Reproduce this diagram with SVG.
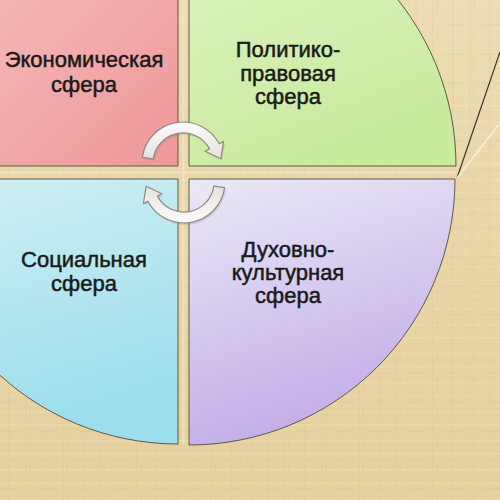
<svg xmlns="http://www.w3.org/2000/svg" width="500" height="500" viewBox="0 0 500 500">
<style>
.q{stroke:#5e5a44;stroke-width:1}
.t{font-family:"Liberation Sans",Arial,sans-serif;font-size:22px;fill:#1a1a1a;stroke:#1a1a1a;stroke-width:0.5;text-anchor:middle}
.arr{fill:url(#ga);stroke:#8e8a8a;stroke-width:1.2;stroke-linejoin:round}
.sh{fill:#7a6a50;opacity:0.18}
</style>
<defs>
<linearGradient id="gbg" x1="0" y1="0" x2="0" y2="1">
<stop offset="0" stop-color="#ecdcb3"/><stop offset="1" stop-color="#e5d09e"/>
</linearGradient>
<pattern id="tex" width="37" height="29" patternUnits="userSpaceOnUse">
<path d="M0,6H37M0,19H37" stroke="#f3e6c4" stroke-width="1" opacity="0.45"/>
<path d="M9,0V29M26,0V29" stroke="#d9c28c" stroke-width="0.8" opacity="0.4"/>
<path d="M0,25H20M30,0V12" stroke="#d2b97f" stroke-width="0.7" opacity="0.4"/>
</pattern>
<linearGradient id="g1" x1="0" y1="0" x2="1" y2="1">
<stop offset="0" stop-color="#f6c8c5"/><stop offset="1" stop-color="#f09799"/>
</linearGradient>
<linearGradient id="g2" x1="0" y1="0" x2="0.4" y2="1">
<stop offset="0" stop-color="#e0f5c6"/><stop offset="1" stop-color="#c9eb9e"/>
</linearGradient>
<linearGradient id="g3" x1="0" y1="0" x2="0.3" y2="1">
<stop offset="0" stop-color="#d2f0f3"/><stop offset="1" stop-color="#9cdeee"/>
</linearGradient>
<linearGradient id="g4" x1="0" y1="0" x2="0.3" y2="1">
<stop offset="0" stop-color="#ebe9f7"/><stop offset="1" stop-color="#c2ade7"/>
</linearGradient>
<linearGradient id="ga" x1="0" y1="0" x2="0" y2="1">
<stop offset="0" stop-color="#fdfcfb"/><stop offset="1" stop-color="#e6e1e1"/>
</linearGradient>
<path id="arrow" d="M142.4,157.3 A41,41 0 0 1 219.2,143.8 L223.6,141.4 L220.9,158.7 L205.1,151.3 L209.5,148.9 A30,30 0 0 0 153.3,158.8 Z"/>
</defs>
<rect width="500" height="500" fill="url(#gbg)"/>
<rect width="500" height="500" fill="url(#tex)"/>
<path d="M183.5,0V444M0,172.5H456" stroke="#f4e8c8" stroke-width="2" opacity="0.7"/>
<path d="M457,178 L500,52" stroke="#3c3624" stroke-width="1.2" fill="none"/>
<path d="M457,178 L500,123" stroke="#f7eed6" stroke-width="1.6" fill="none"/>
<g id="economic">
<path class="q" d="M178,166 L-88,166 A266,266 0 0 1 178,-100 Z" fill="url(#g1)"/>
<text class="t" x="84" y="67">Экономическая</text>
<text class="t" x="84" y="92">сфера</text>
</g>
<g id="political">
<path class="q" d="M189,166 L189,-101 A267,267 0 0 1 456,166 Z" fill="url(#g2)"/>
<text class="t" x="288" y="57">Политико-</text>
<text class="t" x="288" y="81">правовая</text>
<text class="t" x="288" y="104">сфера</text>
</g>
<g id="social">
<path class="q" d="M178,179 L178,444 A265,265 0 0 1 -87,179 Z" fill="url(#g3)"/>
<text class="t" x="84" y="267">Социальная</text>
<text class="t" x="84" y="291">сфера</text>
</g>
<g id="spiritual">
<path class="q" d="M189,179 L455,179 A266,266 0 0 1 189,445 Z" fill="url(#g4)"/>
<text class="t" x="288" y="257">Духовно-</text>
<text class="t" x="288" y="280">культурная</text>
<text class="t" x="288" y="303">сфера</text>
</g>
<g id="connectors">
<use href="#arrow" class="sh" transform="translate(1.5,2)"/>
<use href="#arrow" class="arr"/>
<use href="#arrow" class="sh" transform="rotate(180 183.5 172.5) translate(-1.5,-2)"/>
<use href="#arrow" class="arr" transform="rotate(180 183.5 172.5)"/>
</g>
</svg>
